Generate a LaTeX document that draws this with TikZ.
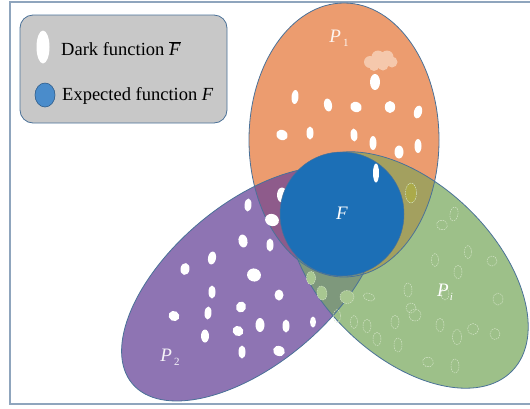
\documentclass[tikz,border=0pt]{standalone}
\usepackage{fontspec}
\setmainfont{Liberation Serif}
\definecolor{frameC}{HTML}{8FA5BD}
\definecolor{orangeP}{HTML}{EC9C6F}
\definecolor{purpleP}{HTML}{8E74B3}
\definecolor{greenP}{HTML}{9DC089}
\definecolor{blueF}{HTML}{1C6FB6}
\definecolor{oPonePtwo}{HTML}{8E5B8B}
\definecolor{oPonePi}{HTML}{A3A05F}
\definecolor{oPtwoPi}{HTML}{7E987C}
\definecolor{edgeC}{HTML}{4A7198}
\definecolor{legendC}{HTML}{C8C8C8}
\definecolor{peachC}{HTML}{F5C8AC}
\definecolor{lgreenC}{HTML}{A8C791}
\definecolor{olblobC}{HTML}{ABAA4A}
\definecolor{dashC}{HTML}{D6E6CA}
\definecolor{iconBlue}{HTML}{4A8CCB}
\definecolor{iconEdge}{HTML}{2E5C8A}
\tikzset{
  ptwo/.style={rotate around={40:(251,284)}},
  ppi/.style={rotate around={-44:(408,270)}},
  edge/.style={draw=edgeC, line width=0.8pt},
  lab/.style={font=\fontsize{19}{20}\selectfont, text=white, inner sep=0pt},
  legtext/.style={font=\fontsize{18.5}{20}\selectfont, text=black, anchor=west, inner sep=0pt},
  dashblob/.style={draw=dashC, line width=0.45pt, dash pattern=on 1.6pt off 0.9pt}
}
% white blob: x y halfwidth halfheight rotation
\newcommand\wb[5]{\fill[white,rotate around={#5:(#1,#2)}] (#1,#2) ellipse [x radius=#3pt, y radius=#4pt];}
% dashed outline blob
\newcommand\ob[5]{\draw[dashblob,rotate around={#5:(#1,#2)}] (#1,#2) ellipse [x radius=#3pt, y radius=#4pt];}
% light green filled blob
\newcommand\gbl[5]{\fill[lgreenC,rotate around={#5:(#1,#2)}] (#1,#2) ellipse [x radius=#3pt, y radius=#4pt];
  \draw[dashblob,rotate around={#5:(#1,#2)}] (#1,#2) ellipse [x radius=#3pt, y radius=#4pt];}
\begin{document}
\begin{tikzpicture}[x=1pt,y=-1pt]
\useasboundingbox (0,0) rectangle (530,408);
\clip (0,0) rectangle (530,408);
% frame
\draw[frameC, line width=1.5pt] (10,2) rectangle (534,404);
% base fills
\fill[orangeP] (344,140) ellipse [x radius=95pt, y radius=137pt];
\fill[purpleP, ptwo] (251,284) ellipse [x radius=155pt, y radius=80pt];
\fill[greenP, ppi] (408,270) ellipse [x radius=145pt, y radius=86pt];
% intersections
\begin{scope}
  \clip (344,140) ellipse [x radius=95pt, y radius=137pt];
  \fill[oPonePtwo, ptwo] (251,284) ellipse [x radius=155pt, y radius=80pt];
  \fill[oPonePi, ppi] (408,270) ellipse [x radius=145pt, y radius=86pt];
\end{scope}
\begin{scope}
  \clip[ptwo] (251,284) ellipse [x radius=155pt, y radius=80pt];
  \fill[oPtwoPi, ppi] (408,270) ellipse [x radius=145pt, y radius=86pt];
\end{scope}
% outlines
\draw[edge] (344,140) ellipse [x radius=95pt, y radius=137pt];
\draw[edge, ptwo] (251,284) ellipse [x radius=155pt, y radius=80pt];
\draw[edge, ppi] (408,270) ellipse [x radius=145pt, y radius=86pt];
% peach cloud in P1
\fill[peachC] (370,62) circle [radius=6pt] (378,57) circle [radius=6.5pt]
  (387,57) circle [radius=6.5pt] (392,62) circle [radius=5.5pt]
  (383,65) circle [radius=5.5pt] (374,66) circle [radius=5pt];
% P1 white blobs
\wb{375}{82}{5}{8}{0}
\wb{295}{97}{3.5}{7}{-5}
\wb{328}{105}{4}{6.5}{10}
\wb{356}{107}{6}{5}{-30}
\wb{390}{107}{5.2}{6}{0}
\wb{418}{112}{4}{6.5}{-15}
\wb{282}{135}{6}{5}{-30}
\wb{310}{133}{3.5}{6.5}{0}
\wb{354}{135}{3.5}{6.5}{5}
\wb{373}{143}{3.5}{7}{0}
\wb{399}{152}{4.5}{6.5}{0}
\wb{418}{146}{3.5}{7}{0}
% P2 white blobs
\begin{scope}
  \clip[ptwo] (251,284) ellipse [x radius=155pt, y radius=80pt];
  \wb{248}{205}{3.5}{6.5}{-5}
  \wb{272}{220}{7}{6}{-20}
  \wb{282}{195}{5}{7.5}{0}
  \wb{243}{241}{4.5}{6.5}{10}
  \wb{270}{245}{3.5}{6.5}{0}
  \wb{212}{258}{4}{6.5}{-10}
  \wb{185}{269}{4.5}{6}{-10}
  \wb{254}{275}{7}{6.5}{-20}
  \wb{212}{292}{3.5}{6.5}{0}
  \wb{279}{295}{4.5}{5.5}{0}
  \wb{174}{316}{5.5}{5}{-30}
  \wb{208}{313}{3.5}{6.5}{-5}
  \wb{241}{307}{5}{5.5}{-20}
  \wb{260}{325}{4.5}{7}{0}
  \wb{238}{331}{5.5}{5}{-30}
  \wb{286}{326}{3.5}{6.5}{0}
  \wb{205}{336}{4}{6.5}{0}
  \wb{313}{322}{3}{5.5}{0}
  \wb{242}{352}{3.5}{6.5}{0}
  \wb{279}{351}{6}{5}{-20}
\end{scope}
% green blobs in P2 and Pi overlap
\gbl{311}{278}{4.5}{6.5}{0}
\gbl{322}{293}{5}{7}{10}
\gbl{347}{297}{7}{6.5}{0}
% olive blob
\fill[olblobC] (411,193) ellipse [x radius=5.5pt, y radius=10pt];
\draw[dashblob] (411,193) ellipse [x radius=5.5pt, y radius=10pt];
% Pi dashed blobs
\ob{454}{214}{4}{7}{-10}
\ob{442}{225}{5.5}{5}{-20}
\ob{468}{252}{3.5}{6.5}{0}
\ob{435}{260}{3.5}{6.5}{0}
\ob{458}{272}{4}{6.5}{0}
\ob{492}{261}{5}{5}{0}
\ob{408}{290}{4}{7}{0}
\ob{369}{297}{6}{3.5}{-20}
\ob{411}{308}{5}{5}{0}
\ob{415}{315}{6}{6}{0}
\ob{395}{322}{4}{6.5}{0}
\ob{440}{325}{4}{6.5}{0}
\ob{457}{337}{4.5}{7.5}{0}
\ob{473}{329}{5.5}{5.5}{0}
\ob{495}{334}{5}{5.5}{0}
\ob{498}{299}{5}{6}{0}
\ob{445}{294}{4}{6}{0}
\ob{367}{326}{4}{6.5}{0}
\ob{354}{322}{3.5}{6.5}{0}
\ob{337}{316}{3.5}{6.5}{0}
\ob{377}{339}{4}{6.5}{0}
\ob{398}{345}{4}{7}{0}
\ob{428}{362}{5.5}{5}{-20}
\ob{455}{366}{4}{7}{0}
% expected function F
\fill[blueF] (342,214) circle [radius=62pt];
\draw[edgeC, line width=0.5pt] (342,214) circle [radius=62pt];
\wb{376}{173}{3}{9.5}{0}
% labels
\node[lab] (lF) at (342,213) {\textit{F}};
\node[lab, text=white!90!orangeP] (lP1) at (339,38) {\textit{P}\hspace{2pt}\raisebox{-4pt}{\fontsize{11}{12}\selectfont 1}};
\node[lab, text=white!92!purpleP] (lP2) at (170,357) {\textit{P}\hspace{2pt}\raisebox{-4pt}{\fontsize{11}{12}\selectfont 2}};
\node[lab] (lPi) at (445,292) {\textit{P}\hspace{1pt}\raisebox{-4pt}{\fontsize{11}{12}\selectfont\textit{i}}};
% legend
\draw[draw=edgeC, fill=legendC, line width=0.8pt, rounded corners=13pt] (20,15) rectangle (227,123);
\fill[white] (43,47) ellipse [x radius=6.5pt, y radius=16.5pt];
\filldraw[fill=iconBlue, draw=iconEdge, line width=0.6pt] (45,95) ellipse [x radius=10pt, y radius=12pt];
\node[legtext] (tDark) at (61,49) {Dark function $\overline{\mbox{\textit{F}}}$};
\node[legtext] (tExp) at (62,96) {Expected function \textit{F}};
\end{tikzpicture}
\end{document}
